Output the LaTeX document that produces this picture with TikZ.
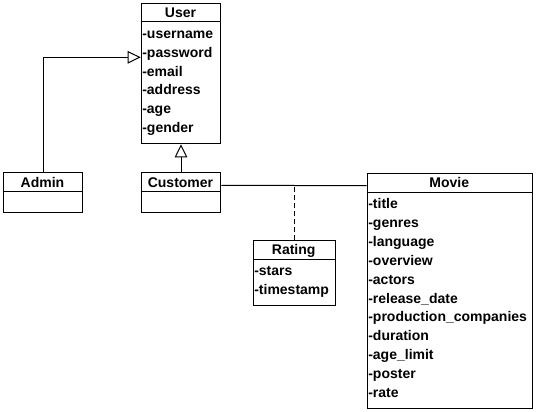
\documentclass[tikz,border=0pt]{standalone}
\usepackage{fontspec}
\setmainfont{Liberation Sans}
\usetikzlibrary{arrows.meta}
\begin{document}
\begin{tikzpicture}[x=1pt, y=-1pt, line width=1pt,
    font=\bfseries\fontsize{14}{19}\selectfont,
    classbox/.style={draw, anchor=north west, inner sep=0pt},
    classname/.style={anchor=base, inner sep=0pt},
    attr/.style={anchor=base west, inner sep=0pt},
    gen/.style={-{Triangle[open, length=13pt, width=12.5pt]}}]
  \useasboundingbox (0,0) rectangle (536,412);
  % User
  \node[classbox, minimum width=79.6pt, minimum height=140.6pt] (user) at (140.7,2.7) {};
  \draw ([yshift=-18.6pt]user.north west) -- ([yshift=-18.6pt]user.north east);
  \node[classname] (usertitle) at (180.5,17.4) {User};
  \foreach \a [count=\i] in {username,password,email,address,age,gender}
    \node[attr] (user\i) at (141.8,19.4+18.9*\i) {-\a};
  % Admin
  \node[classbox, minimum width=79.6pt, minimum height=40pt] (admin) at (2.7,172.3) {};
  \draw ([yshift=-19.4pt]admin.north west) -- ([yshift=-19.4pt]admin.north east);
  \node[classname] (admintitle) at (42.5,187.6) {Admin};
  % Customer
  \node[classbox, minimum width=79.6pt, minimum height=40pt] (customer) at (140.7,172.3) {};
  \draw ([yshift=-19.4pt]customer.north west) -- ([yshift=-19.4pt]customer.north east);
  \node[classname] (customertitle) at (180.5,187.6) {Customer};
  % Rating
  \node[classbox, minimum width=82pt, minimum height=65pt] (rating) at (252.7,240.3) {};
  \draw ([yshift=-19pt]rating.north west) -- ([yshift=-19pt]rating.north east);
  \node[classname] (ratingtitle) at (293.7,254.9) {Rating};
  \foreach \a [count=\i] in {stars,timestamp}
    \node[attr] (rating\i) at (253.8,256.9+18.9*\i) {-\a};
  % Movie
  \node[classbox, minimum width=165.3pt, minimum height=235.6pt] (movie) at (366.7,172.7) {};
  \draw ([yshift=-19.3pt]movie.north west) -- ([yshift=-19.3pt]movie.north east);
  \node[classname] (movietitle) at (449.3,187.8) {Movie};
  \foreach \a [count=\i] in {title,genres,language,overview,actors,release\_date,
      production\_companies,duration,age\_limit,poster,rate}
    \node[attr] (movie\i) at (367.8,189.6+18.9*\i) {-\a};
  % Generalizations
  \draw[gen] (admin.north) |- ([yshift=-54.6pt]user.north west);
  \draw[gen] (customer.north) -- (user.south);
  % Association with class Rating
  \draw ([yshift=-13pt]customer.north east) -- coordinate (assoc) ([yshift=-13pt]movie.north west);
  \draw[dash pattern=on 5pt off 3pt] (rating.north) -- (rating.north |- assoc);
\end{tikzpicture}
\end{document}
